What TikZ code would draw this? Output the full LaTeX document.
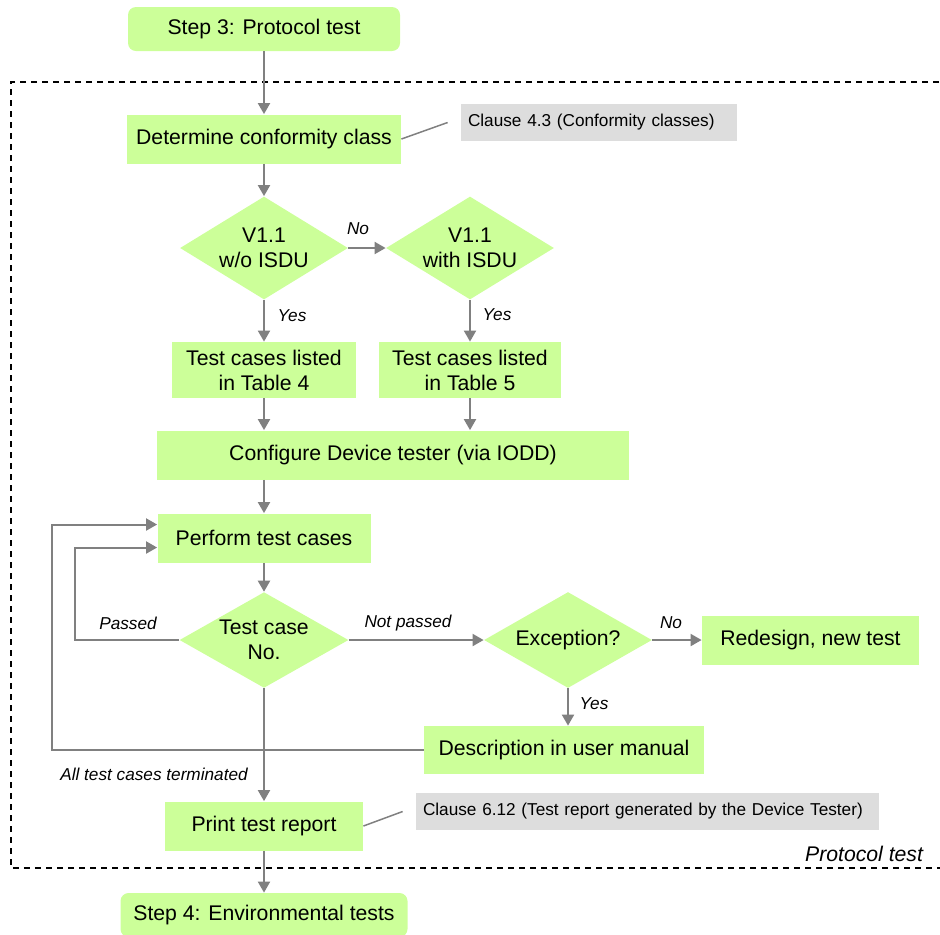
\documentclass[tikz,border=0pt]{standalone}
\usepackage{fontspec}
\setmainfont{Liberation Sans}
\usepackage{tikz}
\usetikzlibrary{%
	calc,%
	arrows.meta,%
	shapes.geometric,%
	positioning
}
\definecolor{flowgreen}{HTML}{CCFF99}
\definecolor{notegray}{HTML}{DDDDDD}
\definecolor{linegray}{HTML}{808080}
\newcommand{\flowfont}{\fontsize{10.6}{12.5}\selectfont}
\newcommand{\notefont}{\fontsize{8.6}{10}\selectfont}

\begin{document}
\begin{tikzpicture}[x=0.5pt,y=-0.5pt,
	>={Triangle[length=5.5pt,width=6pt]},
	flow/.style={draw=linegray,line width=1pt},
	box/.style={fill=flowgreen,inner sep=0pt,align=center,font=\flowfont,minimum height=24.5pt},
	stepbox/.style={box,rounded corners=4pt,minimum height=22pt},
	decision/.style={diamond,fill=flowgreen,inner sep=0pt,aspect=1.6,align=center,font=\flowfont},
	note/.style={fill=notegray,inner xsep=3.5pt,inner ysep=0pt,align=left,font=\notefont,minimum height=18.5pt},
	lbl/.style={font=\notefont\itshape}]
				\useasboundingbox (0,0) rectangle (940,934);
				
				% Frame
				\draw[line width=0.75pt,dash pattern=on 3pt off 2.5pt] (950,82) -- (11,82) -- (11,868) -- (950,868);
				\node[anchor=east,font=\flowfont\itshape] (frame) at (930,854) {Protocol test};
				
				% Boxes
				\node[stepbox,minimum width=136pt] (step3) at (264,29) {Step 3: Protocol test};
				\node[box,minimum width=137pt] (determine) at (264,139) {Determine conformity class};
				\node[note,text width=131pt] (clause43) at (599,122.5) {Clause 4.3 (Conformity classes)};
				\node[box,minimum width=92pt,minimum height=28pt] (table4) at (264,370) {Test cases listed\\in Table 4};
				\node[box,minimum width=91pt,minimum height=28pt] (table5) at (470,370) {Test cases listed\\in Table 5};
				\node[box,minimum width=236pt] (configure) at (393,455) {Configure Device tester (via IODD)};
				\node[box,minimum width=106.5pt] (perform) at (264,538) {Perform test cases};
				\node[box,minimum width=108.5pt] (redesign) at (810.5,640) {Redesign, new test};
				\node[box,minimum width=140pt,minimum height=24pt] (description) at (564,750) {Description in user manual};
				\node[box,minimum width=99pt] (print) at (264,826) {Print test report};
				\node[note,text width=224.5pt] (clause612) at (647.5,811.5) {Clause 6.12 (Test report generated by the Device Tester)};
				\node[stepbox,minimum width=143.5pt] (step4) at (264,915) {Step 4: Environmental tests};
				
				% Decisions
				\node[decision,minimum width=84pt,minimum height=51.5pt] (v11a) at (264,248) {V1.1\\w/o ISDU};
				\node[decision,minimum width=84pt,minimum height=51.5pt] (v11b) at (470,248) {V1.1\\with ISDU};
				\node[decision,minimum width=84.5pt,minimum height=47pt] (testcase) at (264,640) {Test case\\No.};
				\node[decision,minimum width=84pt,minimum height=48pt] (exception) at (568,640) {Exception?};
				
				% Loop corners
				\coordinate (loopA) at (52,750);
				\coordinate (loopB) at (75,640);
				\coordinate (inA) at ($(perform.west)+(0,-13.5)$);
				\coordinate (inB) at ($(perform.west)+(0,9.5)$);
				
				% Connectors
				\foreach \from/\to in {step3/determine,determine/v11a,v11a/table4,v11b/table5,perform/testcase,testcase/print,print/step4}
				\draw[flow,->] (\from.south) -- (\to.north);
				\draw[flow,->] (table4.south) -- (table4.south |- configure.north);
				\draw[flow,->] (table5.south) -- (table5.south |- configure.north);
				\draw[flow,->] (perform.north |- configure.south) -- (perform.north);
				\draw[flow,->] (exception.south) -- (exception.south |- description.north);
				\draw[flow,->] (v11a.east) -- (v11b.west);
				\draw[flow,->] (testcase.east) -- (exception.west);
				\draw[flow,->] (exception.east) -- (redesign.west);
				\draw[flow,->] (testcase.west) -- (loopB) |- (inB);
				\draw[flow,->] (description.west) -- (loopA) |- (inA);
				
				% Notes
				\draw[draw=linegray,line width=0.75pt] (determine.east) -- ($(clause43.west)+(-13,0)$);
				\draw[draw=linegray,line width=0.75pt] (print.east) -- ($(clause612.west)+(-13,0)$);
				
				% Labels
				\node[lbl] (no1) at (358,229) {No};
				\node[lbl] (yes1) at (292,316) {Yes};
				\node[lbl] (yes2) at (497,315) {Yes};
				\node[lbl] (passed) at (128,623) {Passed};
				\node[lbl] (notpassed) at (408,623) {Not passed};
				\node[lbl] (no2) at (671,623) {No};
				\node[lbl] (yes3) at (594,704) {Yes};
				\node[lbl] (terminated) at (154,774) {All test cases terminated};
			\end{tikzpicture}
\end{document}
